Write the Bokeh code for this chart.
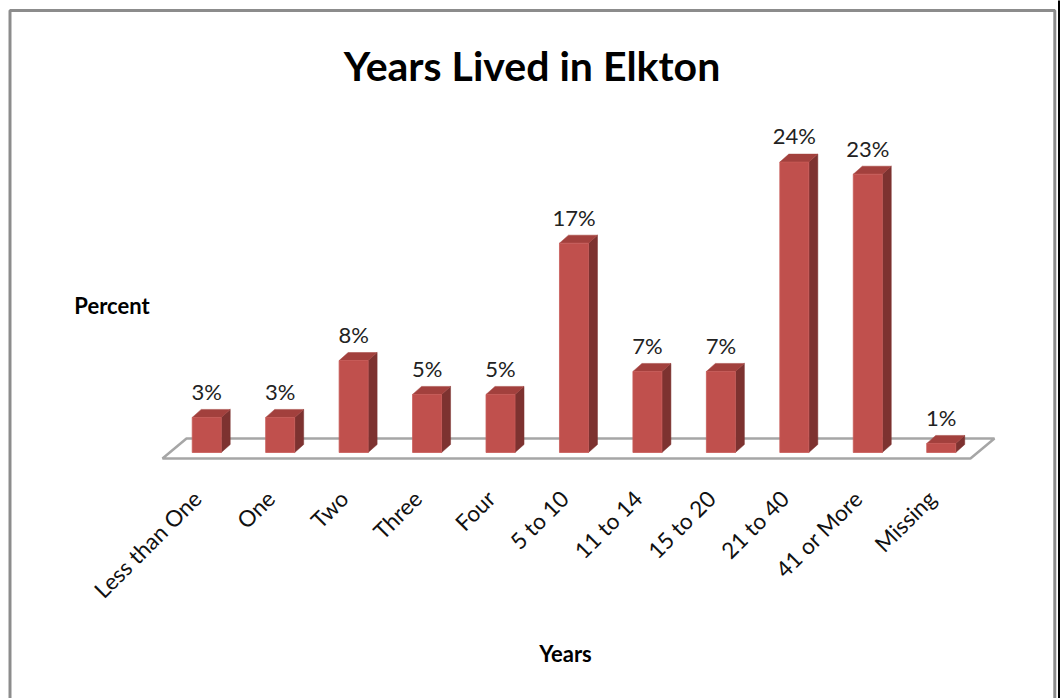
import math
from bokeh.plotting import figure
from bokeh.models import Range1d, ColumnDataSource
from bokeh.core.properties import value
from bokeh.embed import file_html
from bokeh.resources import INLINE

# ---------------- data ----------------
categories = ["Less than One", "One", "Two", "Three", "Four", "5 to 10",
              "11 to 14", "15 to 20", "21 to 40", "41 or More", "Missing"]
percent_values = [2.9, 2.9, 7.6, 4.8, 4.8, 17.3, 6.7, 6.7, 24.0, 23.0, 0.75]
value_labels = ["3%", "3%", "8%", "5%", "5%", "17%", "7%", "7%", "24%", "23%", "1%"]
chart_title = "Years Lived in Elkton"
x_axis_title = "Years"
y_axis_title = "Percent"

# ---------------- layout constants (pixels) ----------------
W, H = 1060, 698
PXX = 73.45          # pixels per category slot
PXY = 12.1           # pixels per percent
FLOOR_LEFT_PX = 162  # front-left corner of floor
BASE_PX = 452        # y pixel of 0 %
BASELINE_FIX = 0.37  # empirical baseline correction (em)

x0 = -0.5 - FLOOR_LEFT_PX / PXX
x1 = x0 + W / PXX
y1 = BASE_PX / PXY
y0 = y1 - H / PXY


def sx(px):
    return x0 + px / PXX


def sy(py):
    return y1 - py / PXY


def dx(px):
    return px / PXX


def dy(px):
    return px / PXY


p = figure(width=W, height=H, x_range=Range1d(x0, x1), y_range=Range1d(y0, y1),
           min_border=0, toolbar_location=None, output_backend="svg",
           x_axis_location=None, y_axis_location=None)
p.grid.visible = False
p.outline_line_color = None
p.background_fill_color = "white"
p.border_fill_color = "white"

n = len(categories)
idx = list(range(n))

# ---------------- floor ----------------
F_FRONT = dy(-6)
F_BACK = dy(14)
F_DX = dx(24)
p.patch([-0.5, n - 0.5, n - 0.5 + F_DX, -0.5 + F_DX],
        [F_FRONT, F_FRONT, F_BACK, F_BACK],
        fill_color="white", line_color="#a6a6a6", line_width=2.5)

# ---------------- 3D bars ----------------
FL = dx(-7)
FR = dx(22)
DDX = dx(9)
DDY = dy(8)

lefts = [i + FL for i in idx]
rights = [i + FR for i in idx]
bars = ColumnDataSource(dict(left=lefts, right=rights, top=percent_values,
                             bottom=[0] * n))

side_xs = [[r, r, r + DDX, r + DDX] for r in rights]
side_ys = [[0, v, v + DDY, DDY] for v in percent_values]
top_xs = [[l, r, r + DDX, l + DDX] for l, r in zip(lefts, rights)]
top_ys = [[v, v, v + DDY, v + DDY] for v in percent_values]

p.patches(side_xs, side_ys, fill_color="#7d3230", line_color="#7d3230", line_width=0.5)
p.patches(top_xs, top_ys, fill_color="#a2403d", line_color="#a2403d", line_width=0.5)
p.quad(source=bars, left="left", right="right", top="top", bottom="bottom",
       fill_color="#c0504d", line_color="#c85b58", line_width=0.8)

# value labels
VAL_FS = 22
lab_x = [i + dx(7.5) for i in idx]
lab_y = [v + DDY + dy(10 + BASELINE_FIX * VAL_FS) for v in percent_values]
p.text(x=lab_x, y=lab_y, text=value_labels, text_font=value("Lato"),
       text_font_size=f"{VAL_FS}px", text_color="#222222", text_align="center",
       text_baseline="alphabetic")

# category labels (rotated)
cat_x = [i + dx(-2) for i in idx]
cat_y = [dy(-42)] * n
p.text(x=cat_x, y=cat_y, text=categories, angle=math.pi / 4,
       text_font=value("Lato"), text_font_size="22.5px", text_color="#111111",
       text_align="right", text_baseline="middle")


def title_text(px, py, txt, fs):
    p.text(x=[sx(px)], y=[sy(py - BASELINE_FIX * fs)], text=[txt], text_font=value("Lato"),
           text_font_style="bold", text_font_size=f"{fs}px", text_color="black",
           text_align="center", text_baseline="alphabetic")


title_text(531.5, 80, chart_title, 41)
title_text(111.5, 313, y_axis_title, 22)
title_text(565, 661, x_axis_title, 22)

# chart border and right black edge
p.line([sx(9.5), sx(9.5), sx(1054.3), sx(1054.3)], [sy(720), sy(10), sy(10), sy(720)],
       line_color="#8c8c8c", line_width=3)
p.quad(left=[sx(1057.5)], right=[sx(1065)], top=[sy(-5)], bottom=[sy(705)],
       fill_color="black", line_color=None)

open("out.html", "w").write(file_html(p, INLINE))
